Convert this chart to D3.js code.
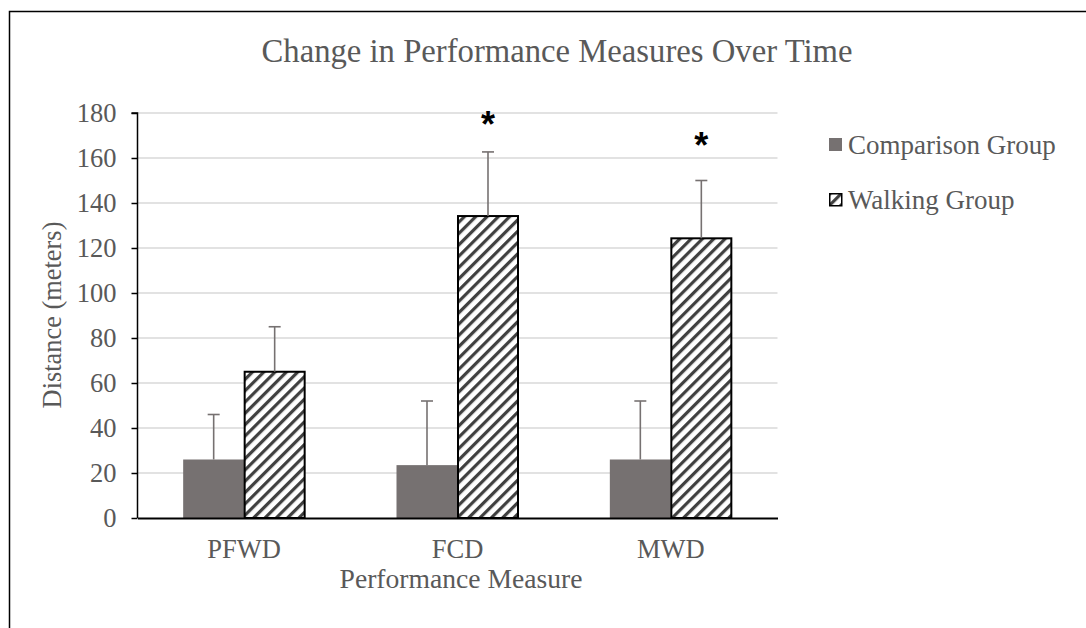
<!DOCTYPE html>
<html><head><meta charset="utf-8">
<script src="https://cdn.jsdelivr.net/npm/d3@7"></script>
<style>body{margin:0;background:#fff}svg{display:block}</style>
</head><body>
<script>
const categories = ["PFWD", "FCD", "MWD"];
const seriesNames = ["Comparison Group", "Walking Group"];
const comparisonValues = [26, 23.5, 26];
const comparisonErrors = [20, 28.5, 26];
const walkingValues = [65, 134.2, 124.3];
const walkingErrors = [20, 28.5, 25.7];
const significance = [null, 176, 166.5];
const yTicks = [0, 20, 40, 60, 80, 100, 120, 140, 160, 180];

const W = 1086, H = 628;
const svg = d3.select("body").append("svg").attr("width", W).attr("height", H);
const font = "'Liberation Serif','Times New Roman',serif";
const textColor = "#595959";

const defs = svg.append("defs");
const pat = defs.append("pattern").attr("id", "hatch").attr("patternUnits", "userSpaceOnUse")
  .attr("width", 8).attr("height", 8).attr("patternTransform", "rotate(45)");
pat.append("rect").attr("width", 8).attr("height", 8).attr("fill", "#fff");
pat.append("rect").attr("x", 0).attr("width", 3.2).attr("height", 8).attr("fill", "#404040");

// outer border
svg.append("rect").attr("x", 9.5).attr("y", 11.5).attr("width", W + 20).attr("height", H + 20)
  .attr("fill", "none").attr("stroke", "#000").attr("stroke-width", 1.5);

const margin = {left: 137.5, right: 777.5, top: 113, bottom: 518};
const x = d3.scaleBand().domain(categories).range([margin.left, margin.right]);
const y = d3.scaleLinear().domain([0, 180]).range([margin.bottom, margin.top]);
const barW = 61;

// gridlines
svg.append("g").selectAll("line").data(yTicks.filter(d => d > 0)).join("line")
  .attr("x1", margin.left).attr("x2", margin.right)
  .attr("y1", d => y(d)).attr("y2", d => y(d))
  .attr("stroke", "#d9d9d9").attr("stroke-width", 1.5);

// title
svg.append("text").attr("x", 557).attr("y", 62).attr("text-anchor", "middle")
  .attr("font-family", font).attr("font-size", 32.7).attr("fill", textColor)
  .text("Change in Performance Measures Over Time");

// bars
const data = categories.map((c, i) => ({c, i}));
const cx = c => x(c) + x.bandwidth() / 2;

svg.append("g").selectAll("rect").data(data).join("rect")
  .attr("x", d => cx(d.c) - barW).attr("width", barW)
  .attr("y", d => y(comparisonValues[d.i])).attr("height", d => y(0) - y(comparisonValues[d.i]))
  .attr("fill", "#767171");

svg.append("g").selectAll("rect").data(data).join("rect")
  .attr("x", d => cx(d.c) + 0.5).attr("width", barW - 1)
  .attr("y", d => y(walkingValues[d.i])).attr("height", d => y(0) - y(walkingValues[d.i]))
  .attr("fill", "url(#hatch)").attr("stroke", "#000").attr("stroke-width", 2);

// error bars
function errBars(vals, errs, offset) {
  const g = svg.append("g").attr("stroke", "#767171").attr("stroke-width", 1.6);
  data.forEach(d => {
    const xc = cx(d.c) + offset;
    g.append("line").attr("x1", xc).attr("x2", xc)
      .attr("y1", y(vals[d.i])).attr("y2", y(vals[d.i] + errs[d.i]));
    g.append("line").attr("x1", xc - 6).attr("x2", xc + 6)
      .attr("y1", y(vals[d.i] + errs[d.i])).attr("y2", y(vals[d.i] + errs[d.i]));
  });
}
errBars(comparisonValues, comparisonErrors, -barW / 2);
errBars(walkingValues, walkingErrors, barW / 2);

// significance asterisks
svg.append("g").selectAll("text").data(data.filter(d => significance[d.i] != null)).join("text")
  .attr("x", d => cx(d.c) + barW / 2).attr("y", d => y(significance[d.i]) + 15)
  .attr("text-anchor", "middle").attr("font-family", "'Liberation Sans',Arial,sans-serif")
  .attr("font-weight", "bold").attr("font-size", 36).attr("fill", "#000").text("*");

// y axis
const yAxis = svg.append("g").attr("transform", `translate(${margin.left},0)`)
  .call(d3.axisLeft(y).tickValues(yTicks).tickSize(6).tickPadding(15));
yAxis.select(".domain").attr("stroke", "#000").attr("stroke-width", 1.5).attr("d", `M-6,${y(180)}H0V${y(0)}`);
yAxis.selectAll(".tick line").attr("stroke", "#000").attr("stroke-width", 1.5);
yAxis.selectAll(".tick text").attr("font-family", font).attr("font-size", 26.5).attr("fill", textColor);

// x axis
const xAxis = svg.append("g").attr("transform", `translate(0,${margin.bottom})`)
  .call(d3.axisBottom(x).tickSize(0).tickPadding(21));
xAxis.select(".domain").attr("stroke", "#000").attr("stroke-width", 1.8);
xAxis.selectAll(".tick text").attr("font-family", font).attr("font-size", 26.5).attr("fill", textColor);

// axis titles
svg.append("text").attr("x", 461).attr("y", 588).attr("text-anchor", "middle")
  .attr("font-family", font).attr("font-size", 27.6).attr("fill", textColor).text("Performance Measure");
svg.append("text").attr("transform", "translate(61,315) rotate(-90)").attr("text-anchor", "middle")
  .attr("font-family", font).attr("font-size", 26.4).attr("fill", textColor).text("Distance (meters)");

// legend
const leg = svg.append("g").attr("transform", "translate(829,0)");
const legTop = [138, 193];
leg.append("rect").attr("x", 0).attr("y", legTop[0]).attr("width", 13).attr("height", 13).attr("fill", "#767171");
leg.append("rect").attr("x", 0.75).attr("y", legTop[1] + 0.75).attr("width", 12).attr("height", 12)
  .attr("fill", "url(#hatch)").attr("stroke", "#000").attr("stroke-width", 1.5);
leg.selectAll("text.l").data(seriesNames).join("text").attr("class", "l")
  .attr("x", 19).attr("y", (d, i) => legTop[i] + 16)
  .attr("font-family", font).attr("font-size", 27).attr("fill", textColor).text(d => d);
</script>
</body></html>
